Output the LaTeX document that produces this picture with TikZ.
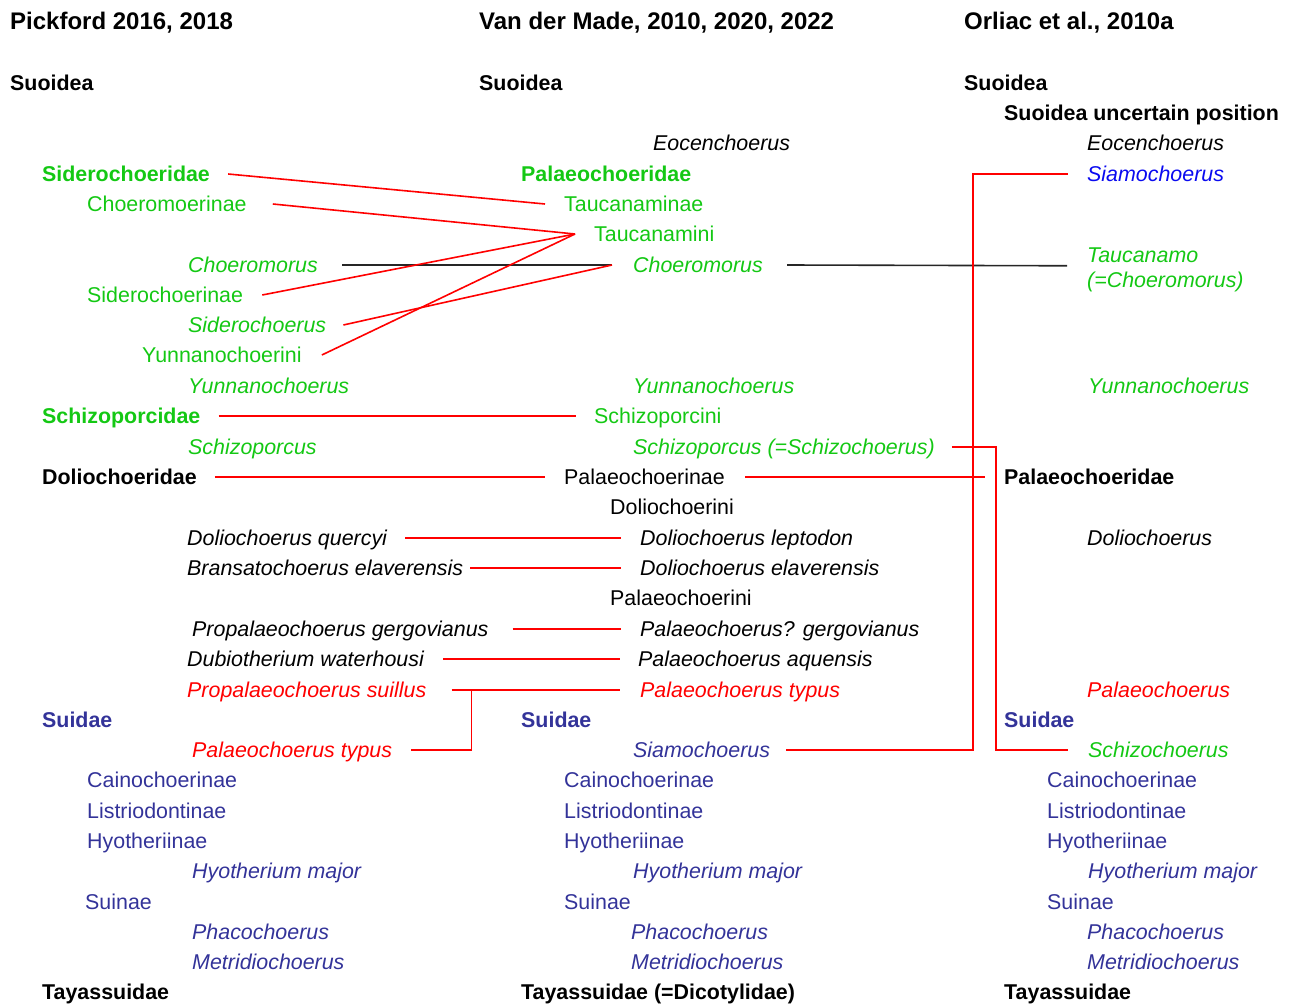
\documentclass[tikz,border=0pt]{standalone}
\usepackage{fontspec}
\setmainfont{Liberation Sans}
\definecolor{cgreen}{RGB}{20,200,20}
\definecolor{cnavy}{RGB}{51,51,153}
\definecolor{cblue}{RGB}{10,10,240}
\definecolor{cred}{RGB}{255,0,0}
\tikzset{
  tx/.style={anchor=west,inner sep=0pt,text height=15.3pt,text depth=0pt,font=\fontsize{21.4}{25}\selectfont},
  bf/.style={tx,font=\fontsize{21.4}{25}\selectfont\bfseries},
  it/.style={tx,font=\fontsize{21.4}{25}\selectfont\itshape},
  hd/.style={tx,text height=17.2pt,font=\fontsize{24}{28}\selectfont\bfseries},
  lk/.style={cred,line width=1.6pt},
  bk/.style={black!85,line width=1.6pt}
}

\begin{document}
\begin{tikzpicture}[x=1pt,y=-1pt]
    \useasboundingbox (0,0) rectangle (1289,1006);
    % Pickford
    \node[hd] (aT) at (10,21) {Pickford 2016, 2018};
    \node[bf] (aSuo) at (10,83) {Suoidea};
    \node[bf,cgreen] (aSid) at (42,174) {Siderochoeridae};
    \node[tx,cgreen] (aChm) at (87,204) {Choeromoerinae};
    \node[it,cgreen] (aCho) at (188,265) {Choeromorus};
    \node[tx,cgreen] (aSdn) at (87,295) {Siderochoerinae};
    \node[it,cgreen] (aSds) at (188,325) {Siderochoerus};
    \node[tx,cgreen] (aYui) at (142,355) {Yunnanochoerini};
    \node[it,cgreen] (aYus) at (188,386) {Yunnanochoerus};
    \node[bf,cgreen] (aSzd) at (42,416) {Schizoporcidae};
    \node[it,cgreen] (aSzs) at (188,447) {Schizoporcus};
    \node[bf] (aDol) at (42,477) {Doliochoeridae};
    \node[it] (aDq) at (187,538) {Doliochoerus quercyi};
    \node[it] (aBe) at (187,568) {Bransatochoerus elaverensis};
    \node[it] (aPg) at (192,629) {Propalaeochoerus gergovianus};
    \node[it] (aDw) at (187,659) {Dubiotherium waterhousi};
    \node[it,cred] (aPs) at (187,690) {Propalaeochoerus suillus};
    \node[bf,cnavy] (aSui) at (42,720) {Suidae};
    \node[it,cred] (aPt) at (192,750) {Palaeochoerus typus};
    \node[tx,cnavy] (aCai) at (87,780) {Cainochoerinae};
    \node[tx,cnavy] (aLis) at (87,811) {Listriodontinae};
    \node[tx,cnavy] (aHyo) at (87,841) {Hyotheriinae};
    \node[it,cnavy] (aHm) at (192,871) {Hyotherium major};
    \node[tx,cnavy] (aSun) at (85,902) {Suinae};
    \node[it,cnavy] (aPha) at (192,932) {Phacochoerus};
    \node[it,cnavy] (aMet) at (192,962) {Metridiochoerus};
    \node[bf] (aTay) at (42,992) {Tayassuidae};
    % Van der Made
    \node[hd] (bT) at (479,21) {Van der Made, 2010, 2020, 2022};
    \node[bf] (bSuo) at (479,83) {Suoidea};
    \node[it] (bEoc) at (653,143) {Eocenchoerus};
    \node[bf,cgreen] (bPal) at (521,174) {Palaeochoeridae};
    \node[tx,cgreen] (bTae) at (564,204) {Taucanaminae};
    \node[tx,cgreen] (bTai) at (594,234) {Taucanamini};
    \node[it,cgreen] (bCho) at (633,265) {Choeromorus};
    \node[it,cgreen] (bYus) at (633,386) {Yunnanochoerus};
    \node[tx,cgreen] (bSzi) at (594,416) {Schizoporcini};
    \node[it,cgreen] (bSzs) at (633,447) {Schizoporcus (=Schizochoerus)};
    \node[tx] (bPae) at (564,477) {Palaeochoerinae};
    \node[tx] (bDoi) at (610,507) {Doliochoerini};
    \node[it] (bDl) at (640,538) {Doliochoerus leptodon};
    \node[it] (bDe) at (640,568) {Doliochoerus elaverensis};
    \node[tx] (bPai) at (610,598) {Palaeochoerini};
    \node[it] (bPg) at (640,629) {Palaeochoerus? gergovianus};
    \node[it] (bPa) at (638,659) {Palaeochoerus aquensis};
    \node[it,cred] (bPt) at (640,690) {Palaeochoerus typus};
    \node[bf,cnavy] (bSui) at (521,720) {Suidae};
    \node[it,cnavy] (bSia) at (633,750) {Siamochoerus};
    \node[tx,cnavy] (bCai) at (564,780) {Cainochoerinae};
    \node[tx,cnavy] (bLis) at (564,811) {Listriodontinae};
    \node[tx,cnavy] (bHyo) at (564,841) {Hyotheriinae};
    \node[it,cnavy] (bHm) at (633,871) {Hyotherium major};
    \node[tx,cnavy] (bSun) at (564,902) {Suinae};
    \node[it,cnavy] (bPha) at (631,932) {Phacochoerus};
    \node[it,cnavy] (bMet) at (631,962) {Metridiochoerus};
    \node[bf] (bTay) at (521,992) {Tayassuidae (=Dicotylidae)};
    % Orliac
    \node[hd] (cT) at (964,21) {Orliac et al., 2010a};
    \node[bf] (cSuo) at (964,83) {Suoidea};
    \node[bf] (cUnc) at (1004,113) {Suoidea uncertain position};
    \node[it] (cEoc) at (1087,143) {Eocenchoerus};
    \node[it,cblue] (cSia) at (1087,174) {Siamochoerus};
    \node[anchor=north west,inner sep=0pt,align=left,cgreen,
      font=\fontsize{21.4}{25}\selectfont\itshape] (cTau) at (1087,247.5) {Taucanamo\\(=Choeromorus)};
    \node[it,cgreen] (cYus) at (1088,386) {Yunnanochoerus};
    \node[bf] (cPal) at (1004,477) {Palaeochoeridae};
    \node[it] (cDol) at (1087,538) {Doliochoerus};
    \node[it,cred] (cPae) at (1087,690) {Palaeochoerus};
    \node[bf,cnavy] (cSui) at (1004,720) {Suidae};
    \node[it,cgreen] (cSch) at (1088,750) {Schizochoerus};
    \node[tx,cnavy] (cCai) at (1047,780) {Cainochoerinae};
    \node[tx,cnavy] (cLis) at (1047,811) {Listriodontinae};
    \node[tx,cnavy] (cHyo) at (1047,841) {Hyotheriinae};
    \node[it,cnavy] (cHm) at (1088,871) {Hyotherium major};
    \node[tx,cnavy] (cSun) at (1047,902) {Suinae};
    \node[it,cnavy] (cPha) at (1087,932) {Phacochoerus};
    \node[it,cnavy] (cMet) at (1087,962) {Metridiochoerus};
    \node[bf] (cTay) at (1004,992) {Tayassuidae};
    % links
    \draw[bk] ([xshift=24]aCho.east) -- ([xshift=-21]bCho.west);
    \draw[bk] ([xshift=24]bCho.east) -- ([xshift=-20,yshift=4]cTau.west);
    \draw[lk] ([xshift=18]aSid.east) -- ([xshift=-19]bTae.west);
    \draw[lk] ([xshift=26]aChm.east) -- ([xshift=-19]bTai.west);
    \draw[lk] ([xshift=19]aSdn.east) -- ([xshift=-19]bTai.west);
    \draw[lk] ([xshift=20]aYui.east) -- ([xshift=-19]bTai.west);
    \draw[lk] ([xshift=17]aSds.east) -- ([xshift=-21]bCho.west);
    \draw[lk] ([xshift=18]aSzd.east) -- ([xshift=-18]bSzi.west);
    \draw[lk] ([xshift=18]aDol.east) -- ([xshift=-19]bPae.west);
    \draw[lk] ([xshift=20]bPae.east) -- ([xshift=-19]cPal.west);
    \draw[lk] ([xshift=17]bSzs.east) -| ([xshift=-92]cSch.west) -- ([xshift=-20]cSch.west);
    \draw[lk] ([xshift=16]bSia.east) -| ([xshift=-114]cSia.west) -- ([xshift=-19]cSia.west);
    \draw[lk] ([xshift=18]aDq.east) -- ([xshift=-19]bDl.west);
    \draw[lk] ([xshift=7]aBe.east) -- ([xshift=-19]bDe.west);
    \draw[lk] ([xshift=24]aPg.east) -- ([xshift=-19]bPg.west);
    \draw[lk] ([xshift=19]aDw.east) -- ([xshift=-18]bPa.west);
    \draw[lk] ([xshift=25]aPs.east) -- ([xshift=-20]bPt.west);
    \draw[lk] ([xshift=19]aPt.east) -| ([xshift=45]aPs.east);
\end{tikzpicture}
\end{document}
